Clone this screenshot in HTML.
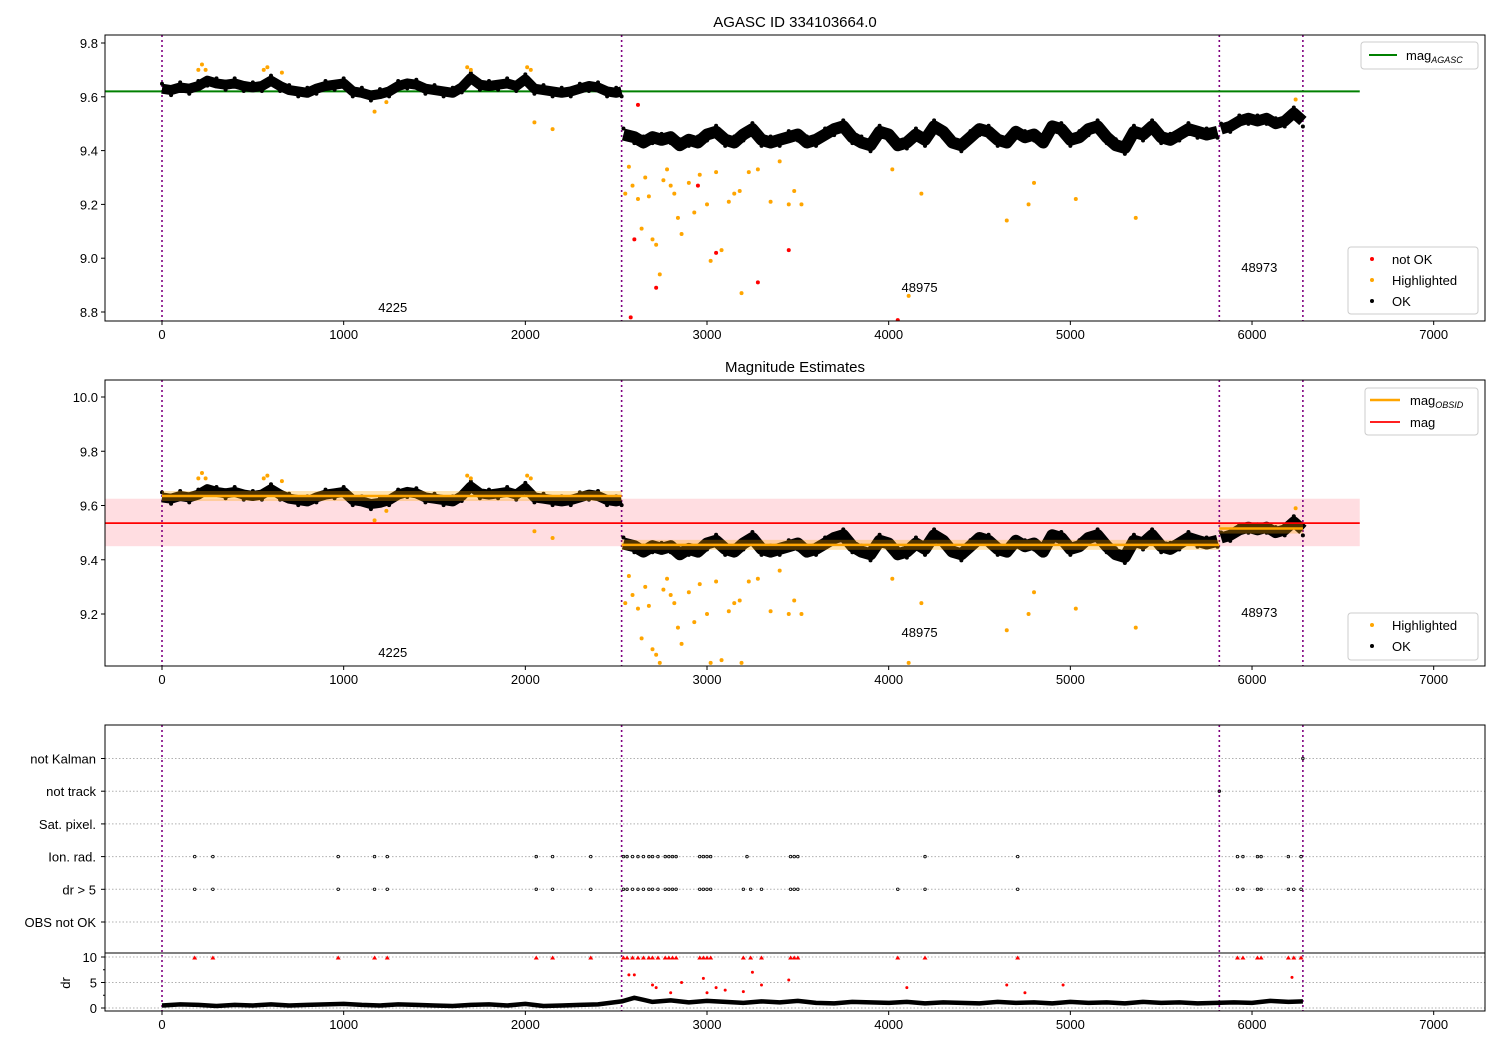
<!DOCTYPE html>
<html><head><meta charset="utf-8"><style>
body{margin:0;background:#fff;}
svg{display:block;font-family:"Liberation Sans","DejaVu Sans",sans-serif;}
</style></head><body>
<svg id="chart" width="1500" height="1050" xmlns="http://www.w3.org/2000/svg"></svg>
<script>
// ---- data ----
const seg1X=[0,50,100,150,200,250,300,350,400,450,500,550,600,650,700,750,800,850,900,950,1000,1050,1100,1150,1200,1250,1300,1350,1400,1450,1500,1550,1600,1650,1700,1750,1800,1850,1900,1950,2000,2050,2100,2150,2200,2250,2300,2350,2400,2450,2500,2530];
const seg1V=[9.63,9.625,9.635,9.63,9.64,9.66,9.65,9.645,9.65,9.64,9.635,9.64,9.66,9.64,9.625,9.62,9.615,9.63,9.64,9.645,9.65,9.62,9.615,9.605,9.61,9.62,9.64,9.65,9.645,9.63,9.625,9.62,9.615,9.635,9.67,9.645,9.64,9.645,9.65,9.64,9.665,9.63,9.625,9.62,9.615,9.62,9.63,9.64,9.635,9.62,9.615,9.62];
const seg2X=[2540,2600,2650,2700,2750,2800,2850,2900,2950,3000,3050,3100,3150,3200,3250,3300,3350,3400,3450,3500,3550,3600,3650,3700,3750,3800,3850,3900,3950,4000,4050,4100,4150,4200,4250,4300,4350,4400,4450,4500,4550,4600,4650,4700,4750,4800,4850,4900,4950,5000,5050,5100,5150,5200,5250,5300,5350,5400,5450,5500,5550,5600,5650,5700,5750,5810];
const seg2V=[9.46,9.45,9.43,9.45,9.44,9.45,9.42,9.44,9.43,9.46,9.47,9.44,9.43,9.46,9.48,9.44,9.43,9.44,9.45,9.46,9.43,9.44,9.46,9.48,9.49,9.45,9.43,9.42,9.47,9.46,9.42,9.43,9.46,9.44,9.49,9.47,9.43,9.42,9.45,9.48,9.47,9.44,9.43,9.47,9.45,9.46,9.43,9.49,9.48,9.44,9.45,9.48,9.49,9.45,9.42,9.41,9.47,9.46,9.49,9.45,9.44,9.46,9.48,9.47,9.46,9.47];
const seg3X=[5830,5880,5930,5980,6030,6080,6130,6180,6230,6280];
const seg3V=[9.48,9.49,9.51,9.52,9.51,9.52,9.50,9.51,9.54,9.51];
const hiX=[200,220,240,560,580,660,1170,1235,1680,1700,2010,2030,2050,2150,2550,2570,2590,2620,2640,2660,2680,2700,2720,2740,2760,2780,2800,2820,2840,2860,2900,2930,2960,3000,3020,3050,3080,3120,3150,3180,3190,3230,3280,3350,3400,3450,3480,3520,4020,4110,4180,4650,4770,4800,5030,5360,6240];
const hiV=[9.70,9.72,9.70,9.70,9.71,9.69,9.545,9.58,9.71,9.70,9.71,9.70,9.505,9.48,9.24,9.34,9.27,9.22,9.11,9.3,9.23,9.07,9.05,8.94,9.29,9.33,9.27,9.24,9.15,9.09,9.28,9.17,9.31,9.20,8.99,9.32,9.03,9.21,9.24,9.25,8.87,9.32,9.33,9.21,9.36,9.2,9.25,9.2,9.33,8.86,9.24,9.14,9.2,9.28,9.22,9.15,9.59];
const badX=[2580,2600,2620,2720,2950,3050,3280,3450,4050];
const badV=[8.78,9.07,9.57,8.89,9.27,9.02,8.91,9.03,8.77];
const obsBounds=[0,2530,5820,6280];
const obsLabels=["4225","48975","48973"];
const obsLabelX=[1160,4060,5930];
const obsMean=[9.635,9.455,9.515];
const magAgasc=9.62, magAll=9.535, magLo=9.45, magHi=9.625;
const flagNames=["OBS not OK","dr > 5","Ion. rad.","Sat. pixel.","not track","not Kalman"];
const ionX=[180,280,970,1170,1240,2060,2150,2360,2540,2560,2590,2620,2650,2680,2700,2730,2770,2790,2810,2830,2960,2980,3000,3020,3220,3460,3480,3500,4200,4710,5920,5950,6030,6050,6200,6270];
const drX=[180,280,970,1170,1240,2060,2150,2360,2540,2560,2590,2620,2650,2680,2700,2730,2770,2790,2810,2830,2960,2980,3000,3020,3200,3240,3300,3460,3480,3500,4050,4200,4710,5920,5950,6030,6050,6200,6230,6270];
const trackX=[5820];
const kalmanX=[6280];
const drBaseX=[0,100,200,300,400,500,600,700,800,900,1000,1100,1200,1300,1400,1500,1600,1700,1800,1900,2000,2100,2200,2300,2400,2530,2600,2650,2700,2800,2900,3000,3100,3200,3300,3400,3500,3600,3700,3800,3900,4000,4100,4200,4300,4400,4500,4600,4700,4800,4900,5000,5100,5200,5300,5400,5500,5600,5700,5800,5900,6000,6100,6200,6280];
const drBaseV=[0.5,0.7,0.6,0.4,0.6,0.5,0.7,0.5,0.6,0.7,0.8,0.6,0.5,0.7,0.6,0.5,0.4,0.6,0.7,0.5,0.8,0.4,0.5,0.6,0.7,1.3,2.0,1.6,1.2,1.5,1.1,1.4,1.2,1.0,1.3,1.1,1.4,1.0,0.9,1.2,1.1,1.0,1.2,0.9,1.1,1.0,0.9,1.2,1.0,1.1,0.9,1.2,1.0,1.1,0.9,1.2,1.0,1.1,0.9,1.0,1.1,1.0,1.4,1.2,1.3];
const drRedX=[2570,2600,2700,2720,2800,2860,2980,3000,3050,3100,3200,3250,3300,3450,4100,4650,4750,4960,6220];
const drRedV=[6.5,6.5,4.5,4,3,5,5.8,3,4,3.5,3.2,7,4.5,5.5,4,4.5,3,4.5,6];

// ---- helpers ----
const svg=document.getElementById('chart');
const NS="http://www.w3.org/2000/svg";
function mk(tag,attrs,parent){const e=document.createElementNS(NS,tag);for(const k in attrs)e.setAttribute(k,attrs[k]);(parent||svg).appendChild(e);return e;}
function txt(x,y,s,size,anchor,parent){const t=mk('text',{x:x,y:y,'font-size':size,'text-anchor':anchor||'middle',fill:'#000'},parent);t.textContent=s;return t;}
const L=105,R=1485;
const X=v=>162+v*0.18167;
function axisFrame(top,bot,name){
  const g=mk('g',{});
  
  
  return g;
}
function xTicks(bot,g){
  for(let t=0;t<=7000;t+=1000){
    mk('line',{x1:X(t),x2:X(t),y1:bot,y2:bot+4,stroke:'#000'},g);
    const lb=txt(X(t),bot+18,String(t),13,'middle',g);
    
    
  }
}
function vlines(top,bot,g){
  obsBounds.forEach(b=>{const l=mk('line',{x1:X(b),x2:X(b),y1:top,y2:bot,stroke:'#800080','stroke-width':1.6,'stroke-dasharray':'2,3'},g);
    
    });
}
function band(xs,vs,Y,g,w){
  let d='';xs.forEach((x,i)=>{d+=(i?'L':'M')+X(x).toFixed(1)+','+Y(vs[i]).toFixed(1);});
  mk('path',{d:d,fill:'none',stroke:'#000','stroke-width':w,'stroke-linejoin':'round','stroke-linecap':'butt'},g);
  xs.forEach((x,i)=>{mk('circle',{cx:X(x),cy:Y(vs[i])+((i%2)?w/2:-w/2),r:2,fill:'#000'},g);});
}
function legendBox(x,y,w,h,g){mk('rect',{x:x,y:y,width:w,height:h,rx:3,fill:'#fff',stroke:'#ccc'},g);}

// ---- panel 1 ----
(function(){
  const top=35,bot=321;
  const Y=v=>43+(9.8-v)*269;
  const g=axisFrame(top,bot,'agasc-panel');
  mk('clipPath',{id:'c1'},g);
  mk('rect',{x:L,y:top,width:R-L,height:bot-top},g.lastChild);
  const pg=mk('g',{'clip-path':'url(#c1)'},g);
  vlines(top,bot,pg);
  const gl=mk('line',{x1:L,x2:X(6593),y1:Y(magAgasc),y2:Y(magAgasc),stroke:'#008000','stroke-width':2},pg);
  
  
  band(seg1X,seg1V,Y,pg,10);band(seg2X,seg2V,Y,pg,12);band(seg3X,seg3V,Y,pg,11);
  hiX.forEach((x,i)=>{const c=mk('circle',{cx:X(x),cy:Y(hiV[i]),r:2,fill:'#ffa500'},pg);
    });
  badX.forEach((x,i)=>{const c=mk('circle',{cx:X(x),cy:Y(badV[i]),r:2,fill:'#ff0000'},pg);
    });
  obsLabels.forEach((s,i)=>txt(X(obsLabelX[i])+20,[312,292,272][i],s,13,'middle',g));
  mk('rect',{x:L,y:top,width:R-L,height:bot-top,fill:'none',stroke:'#000'},g);
  [8.8,9.0,9.2,9.4,9.6,9.8].forEach(t=>{mk('line',{x1:L-4,x2:L,y1:Y(t),y2:Y(t),stroke:'#000'},g);txt(L-7,Y(t)+5,t.toFixed(1),13,'end',g);});
  xTicks(bot,g);
  const t=txt(795,27,'AGASC ID 334103664.0',15,'middle',g);
  
  const lg=mk('g',{},g);
  legendBox(1361,42,117,27,lg);mk('line',{x1:1369,x2:1397,y1:55,y2:55,stroke:'#008000','stroke-width':2},lg);
  const lt=txt(1406,60,'mag',13,'start',lg);const sub=mk('tspan',{'font-size':9,'font-style':'italic',dy:3},lt);sub.textContent='AGASC';
  const lg2=mk('g',{},g);
  legendBox(1348,247,130,67,lg2);
  [['not OK','#ff0000',259],['Highlighted','#ffa500',280],['OK','#000',301]].forEach(a=>{mk('circle',{cx:1372,cy:a[2],r:2,fill:a[1]},lg2);txt(1392,a[2]+5,a[0],13,'start',lg2);});
})();

// ---- panel 2 ----
(function(){
  const top=380,bot=666;
  const Y=v=>397+(10.0-v)*271.25;
  const g=axisFrame(top,bot,'estimates-panel');
  mk('clipPath',{id:'c2'},g);mk('rect',{x:L,y:top,width:R-L,height:bot-top},g.lastChild);
  const pg=mk('g',{'clip-path':'url(#c2)'},g);
  const pb=mk('rect',{x:L,y:Y(magHi),width:X(6593)-L,height:Y(magLo)-Y(magHi),fill:'#ffdde1'},pg);
  
  vlines(top,bot,pg);
  band(seg1X,seg1V,Y,pg,10);band(seg2X,seg2V,Y,pg,12);band(seg3X,seg3V,Y,pg,11);
  obsMean.forEach((m,i)=>{mk('rect',{x:X(obsBounds[i]),y:Y(m)-5,width:X(obsBounds[i+1])-X(obsBounds[i]),height:10,fill:'#ffa500','fill-opacity':0.3},pg);
    const l=mk('line',{x1:X(obsBounds[i]),x2:X(obsBounds[i+1]),y1:Y(m),y2:Y(m),stroke:'#ffa500','stroke-width':2.5},pg);
    });
  const rl=mk('line',{x1:L,x2:X(6593),y1:Y(magAll),y2:Y(magAll),stroke:'#ff0000','stroke-width':1.8},pg);
  
  hiX.forEach((x,i)=>{const v=Math.max(hiV[i],9.02);const c=mk('circle',{cx:X(x),cy:Y(v),r:2,fill:'#ffa500'},pg);
    });
  obsLabels.forEach((s,i)=>txt(X(obsLabelX[i])+20,[657,637,617][i],s,13,'middle',g));
  mk('rect',{x:L,y:top,width:R-L,height:bot-top,fill:'none',stroke:'#000'},g);
  [9.2,9.4,9.6,9.8,10.0].forEach(t=>{mk('line',{x1:L-4,x2:L,y1:Y(t),y2:Y(t),stroke:'#000'},g);txt(L-7,Y(t)+5,t.toFixed(1),13,'end',g);});
  xTicks(bot,g);
  const t=txt(795,372,'Magnitude Estimates',15,'middle',g);
  
  const lg=mk('g',{},g);
  legendBox(1365,388,113,47,lg);
  mk('line',{x1:1370,x2:1400,y1:400,y2:400,stroke:'#ffa500','stroke-width':2.5},lg);
  const lt=txt(1410,405,'mag',13,'start',lg);const sub=mk('tspan',{'font-size':9,'font-style':'italic',dy:3},lt);sub.textContent='OBSID';
  mk('line',{x1:1370,x2:1400,y1:422,y2:422,stroke:'#ff0000','stroke-width':1.8},lg);txt(1410,427,'mag',13,'start',lg);
  const lg2=mk('g',{},g);
  legendBox(1348,613,130,47,lg2);
  [['Highlighted','#ffa500',625],['OK','#000',646]].forEach(a=>{mk('circle',{cx:1372,cy:a[2],r:2,fill:a[1]},lg2);txt(1392,a[2]+5,a[0],13,'start',lg2);});
})();

// ---- panel 3 flags ----
(function(){
  const top=725,bot=953;
  const Y=i=>922-i*32.7;
  const g=axisFrame(top,bot,'flags-panel');
  flagNames.forEach((n,i)=>{mk('line',{x1:L,x2:R,y1:Y(i),y2:Y(i),stroke:'#b0b0b0','stroke-dasharray':'1.5,2'},g);
    mk('line',{x1:L-4,x2:L,y1:Y(i),y2:Y(i),stroke:'#000'},g);
    const t=txt(L-9,Y(i)+5,n,13,'end',g);});
  vlines(top,1011,g);
  [[drX,1],[ionX,2],[trackX,4],[kalmanX,5]].forEach(a=>a[0].forEach(x=>{const c=mk('circle',{cx:X(x),cy:Y(a[1]),r:1.3,fill:'none',stroke:'#000','stroke-width':0.8},g);
    }));
  mk('rect',{x:L,y:top,width:R-L,height:bot-top,fill:'none',stroke:'#000'},g);
})();

// ---- panel 4 dr ----
(function(){
  const top=953,bot=1011;
  const Y=v=>1008-v*5.1;
  const g=axisFrame(top,bot,'dr-panel');
  [0,5,10].forEach(t=>{mk('line',{x1:L,x2:R,y1:Y(t),y2:Y(t),stroke:'#b0b0b0','stroke-dasharray':'1.5,2'},g);
    mk('line',{x1:L-4,x2:L,y1:Y(t),y2:Y(t),stroke:'#000'},g);txt(L-8,Y(t)+5,String(t),13,'end',g);});
  [2.5,7.5].forEach(t=>mk('line',{x1:L-2,x2:L,y1:Y(t),y2:Y(t),stroke:'#000'},g));
  let d='';drBaseX.forEach((x,i)=>{d+=(i?'L':'M')+X(x).toFixed(1)+','+Y(drBaseV[i]).toFixed(1);});
  const p=mk('path',{d:d,fill:'none',stroke:'#000','stroke-width':4.5,'stroke-linejoin':'round'},g);
  
  drX.forEach(x=>{const c=mk('path',{d:`M${X(x)-2.5},${Y(9.9)+2}L${X(x)},${Y(9.9)-2}L${X(x)+2.5},${Y(9.9)+2}Z`,fill:'#ff0000'},g);
    });
  drRedX.forEach((x,i)=>{const c=mk('circle',{cx:X(x),cy:Y(drRedV[i]),r:1.5,fill:'#ff0000'},g);
    });
  mk('rect',{x:L,y:top,width:R-L,height:bot-top,fill:'none',stroke:'#000'},g);
  const yl=txt(0,0,'dr',13,'middle',g);yl.setAttribute('transform','translate(70,983) rotate(-90)');
  
  xTicks(bot,g);
})();
</script>
</body></html>
